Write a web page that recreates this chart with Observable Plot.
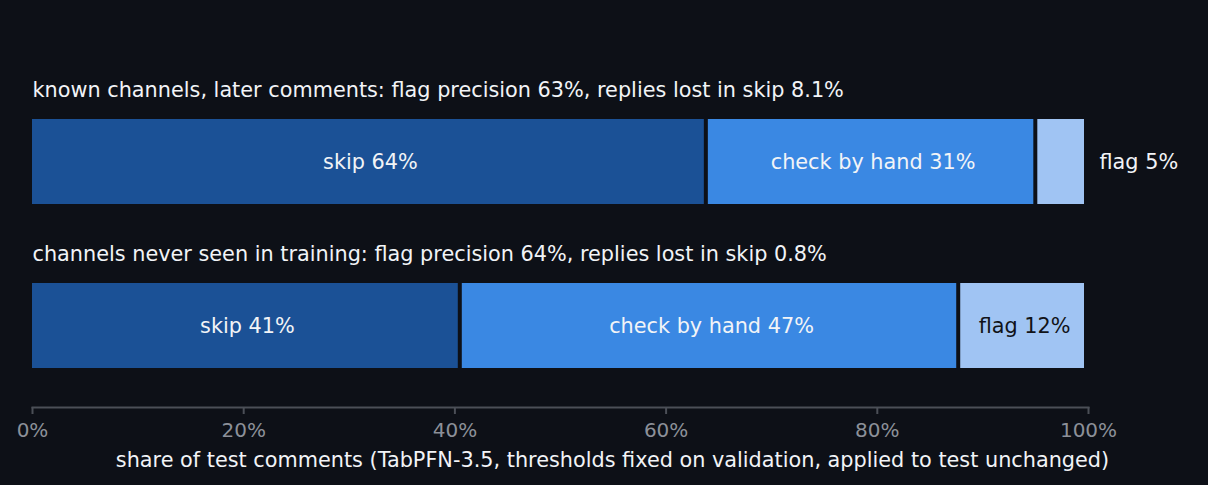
<!DOCTYPE html>
<html><head><meta charset="utf-8">
<script src="https://cdn.jsdelivr.net/npm/d3@7"></script>
<script src="https://cdn.jsdelivr.net/npm/@observablehq/plot@0.6"></script>
<style>
html,body{margin:0;padding:0;background:#0d1017;}
</style></head><body><div id="chart"></div>
<script>
const groups = ["known channels, later comments", "channels never seen in training"];
const precision = [63, 64];
const lostInSkip = [8.1, 0.8];
const decisions = ["skip", "check by hand", "flag"];
const skipShare = [64.0, 40.7];
const checkShare = [31.2, 47.2];
const flagShare = [4.8, 12.1];
const xTicks = [0, 20, 40, 60, 80, 100];
const xLabel = "share of test comments (TabPFN-3.5, thresholds fixed on validation, applied to test unchanged)";
const colors = ["#1b5196", "#3a88e3", "#a0c4f3"];

const rows = [];
groups.forEach((g, i) => {
  const shares = [skipShare[i], checkShare[i], flagShare[i]];
  const ends = d3.cumsum(shares);
  shares.forEach((s, j) => rows.push({
    group: g, decision: decisions[j], share: s,
    x1: ends[j] - s, x2: ends[j], mid: ends[j] - s / 2,
    label: `${decisions[j]} ${Math.round(s)}%`
  }));
});
const titles = groups.map((g, i) => ({group: g, text: `${g}: flag precision ${precision[i]}%, replies lost in skip ${lostInSkip[i]}%`}));
const inside = rows.filter(d => d.share >= 8);
const outside = rows.filter(d => d.share < 8);
const fs = 20.8;

const chart = Plot.plot({
  width: 1208, height: 485,
  marginLeft: 32, marginRight: 120, marginTop: 80, marginBottom: 78,
  style: {background: "#0d1017", fontFamily: "DejaVu Sans", fontSize: "20px", color: "#f0f0f0"},
  x: {domain: [0, 100]},
  y: {domain: groups, paddingInner: 0.4817, paddingOuter: 0.2378, axis: null},
  color: {domain: decisions, range: colors},
  marks: [
    Plot.barX(rows, {x1: "x1", x2: "x2", y: "group", fill: "decision", insetRight: 4}),
    Plot.text(inside.filter(d => d.decision !== "flag"), {x: "mid", y: "group", text: "label", fill: "#f2f4f7", fontSize: fs}),
    Plot.text(inside.filter(d => d.decision === "flag"), {x: "mid", y: "group", text: "label", fill: "#111318", fontSize: fs}),
    Plot.text(outside, {x: "x2", y: "group", text: "label", fill: "#f2f4f7", fontSize: fs, textAnchor: "start", dx: 11}),
    Plot.text(titles, {y: "group", text: "text", frameAnchor: "left", textAnchor: "start", dy: -71.5, fill: "#f2f4f7", fontSize: fs}),
    Plot.frame({anchor: "bottom", stroke: "#4b4f57", strokeWidth: 2}),
    Plot.axisX({ticks: xTicks, tickFormat: d => d + "%", tickSize: 7, tickPadding: 8, stroke: "#4b4f57", fill: "#8c9099", fontSize: 20, label: null, strokeWidth: 2}),
    Plot.text([xLabel], {text: d => d, frameAnchor: "bottom", lineAnchor: "middle", dx: 52, dy: 53, fill: "#f2f4f7", fontSize: fs})
  ]
});
document.getElementById("chart").appendChild(chart);
</script></body></html>
